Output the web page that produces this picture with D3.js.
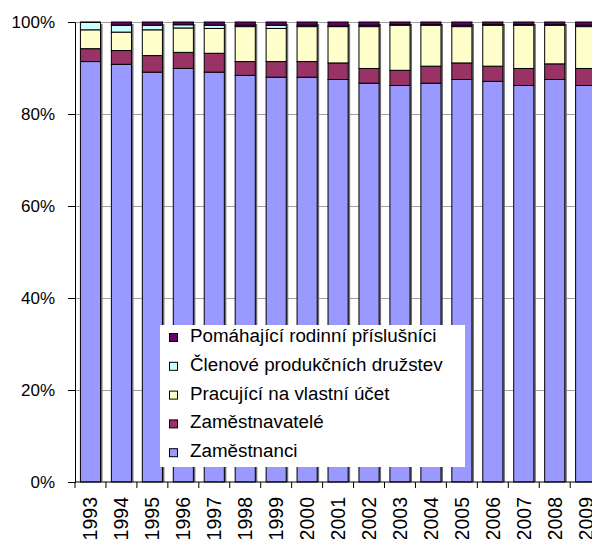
<!DOCTYPE html>
<html>
<head>
<meta charset="utf-8">
<script src="https://cdn.jsdelivr.net/npm/d3@7"></script>
<style>
  body { margin: 0; background: #fff; }
  text { font-family: "Liberation Sans", Arial, sans-serif; }
</style>
</head>
<body>
<div id="chart"></div>
<script>
var years = ["1993","1994","1995","1996","1997","1998","1999","2000","2001",
             "2002","2003","2004","2005","2006","2007","2008","2009"];

// shares in % (stacked bottom to top)
var zamestnanci   = [91.4, 90.8, 89.1, 89.9, 89.1, 88.4, 88.0, 88.0, 87.5, 86.7, 86.2, 86.7, 87.5, 87.1, 86.2, 87.5, 86.2];
var zamestnavatele = [2.8, 3.0, 3.6, 3.5, 4.1, 3.0, 3.4, 3.4, 3.6, 3.2, 3.3, 3.7, 3.6, 3.3, 3.7, 3.4, 3.7];
var vlastniUcet   = [4.1, 4.0, 5.6, 5.3, 5.4, 7.6, 7.2, 7.6, 7.9, 9.1, 9.8, 8.9, 7.9, 8.9, 9.4, 8.4, 9.1];
var druzstva      = [1.6, 1.5, 1.0, 0.7, 0.7, 0.3, 0.7, 0.3, 0.1, 0.3, 0.1, 0.1, 0.3, 0.1, 0.1, 0.1, 0.3];
var pomahajici    = [0.1, 0.7, 0.7, 0.6, 0.7, 0.7, 0.7, 0.7, 0.9, 0.7, 0.6, 0.6, 0.7, 0.6, 0.6, 0.6, 0.7];

var seriesNames = ["Zaměstnanci", "Zaměstnavatelé", "Pracující na vlastní účet",
                   "Členové produkčních družstev", "Pomáhající rodinní příslušníci"];
var seriesColors = ["#9999ff", "#993366", "#ffffcc", "#ccffff", "#660066"];
var yTicks = [0, 0.2, 0.4, 0.6, 0.8, 1];

var allSeries = [zamestnanci, zamestnavatele, vlastniUcet, druzstva, pomahajici];

var W = 592, H = 539;
var margin = {top: 22, left: 75, bottom: 57};
var plotH = H - margin.top - margin.bottom;

var data = years.map(function(y, i) {
  var row = {year: y};
  var total = d3.sum(allSeries, function(s) { return s[i]; });
  seriesNames.forEach(function(n, k) { row[n] = allSeries[k][i] / total; });
  return row;
});

var stacked = d3.stack().keys(seriesNames)(data);

var x = d3.scaleBand()
    .domain(years)
    .range([margin.left, margin.left + years.length * 30.95])
    .paddingInner(0.35)
    .paddingOuter(0.175);

var y = d3.scaleLinear().domain([0, 1]).range([margin.top + plotH, margin.top]);

var svg = d3.select("#chart").append("svg")
    .attr("width", W)
    .attr("height", H);

// gridlines
svg.append("g")
  .selectAll("line")
  .data(yTicks.slice(1))
  .enter().append("line")
    .attr("x1", margin.left)
    .attr("x2", W + 20)
    .attr("y1", function(d) { return Math.round(y(d)) + 0.5; })
    .attr("y2", function(d) { return Math.round(y(d)) + 0.5; })
    .attr("stroke", "#a0a0a0")
    .attr("stroke-width", 1);

// bar shadows
svg.append("g")
  .selectAll("rect")
  .data(data)
  .enter().append("rect")
    .attr("x", function(d) { return x(d.year) + 2; })
    .attr("y", y(1) + 2)
    .attr("width", x.bandwidth())
    .attr("height", y(0) - y(1) - 2)
    .attr("fill", "#707070");

// stacked bars
svg.append("g")
  .selectAll("g")
  .data(stacked)
  .enter().append("g")
    .attr("fill", function(d, i) { return seriesColors[i]; })
  .selectAll("rect")
  .data(function(d) { return d; })
  .enter().append("rect")
    .attr("x", function(d) { return x(d.data.year); })
    .attr("y", function(d) { return y(d[1]); })
    .attr("width", x.bandwidth())
    .attr("height", function(d) { return y(d[0]) - y(d[1]); })
    .attr("stroke", "#000")
    .attr("stroke-width", 1);

// y axis
var yAxis = d3.axisLeft(y)
    .tickValues(yTicks)
    .tickFormat(d3.format(".0%"))
    .tickSize(7)
    .tickPadding(13);

var gy = svg.append("g")
    .attr("transform", "translate(" + margin.left + ",0)")
    .call(yAxis);
gy.select(".domain").attr("stroke", "#000");
gy.selectAll("text")
    .style("font-size", "17px")
    .attr("fill", "#000");

// x axis with ticks at band boundaries
var gx = svg.append("g")
    .attr("transform", "translate(0," + y(0) + ")");
gx.append("line")
    .attr("x1", margin.left)
    .attr("x2", W + 20)
    .attr("stroke", "#000");
gx.selectAll(".bt")
  .data(years)
  .enter().append("line")
    .attr("class", "bt")
    .attr("x1", function(d) { return x(d) - x.step() * x.paddingOuter(); })
    .attr("x2", function(d) { return x(d) - x.step() * x.paddingOuter(); })
    .attr("y1", 0)
    .attr("y2", 6)
    .attr("stroke", "#000");
gx.selectAll("text")
  .data(years)
  .enter().append("text")
    .attr("transform", function(d) {
      return "translate(" + (x(d) + x.bandwidth() / 2 + 7) + ",15) rotate(-90)";
    })
    .attr("text-anchor", "end")
    .style("font-size", "19.5px")
    .text(function(d) { return d; });

// legend
var legend = svg.append("g");
legend.append("rect")
    .attr("x", 160)
    .attr("y", 325)
    .attr("width", 305)
    .attr("height", 142)
    .attr("fill", "#fff");

var legendItems = seriesNames.slice().reverse();
var legendColors = seriesColors.slice().reverse();
legendItems.forEach(function(n, i) {
  var cy = 337 + i * 28.8;
  legend.append("rect")
      .attr("x", 169.5)
      .attr("y", cy - 3.5)
      .attr("width", 8)
      .attr("height", 8)
      .attr("fill", legendColors[i])
      .attr("stroke", "#000");
  legend.append("text")
      .attr("x", 190)
      .attr("y", cy + 5)
      .style("font-size", "18.8px")
      .text(n);
});
</script>
</body>
</html>
